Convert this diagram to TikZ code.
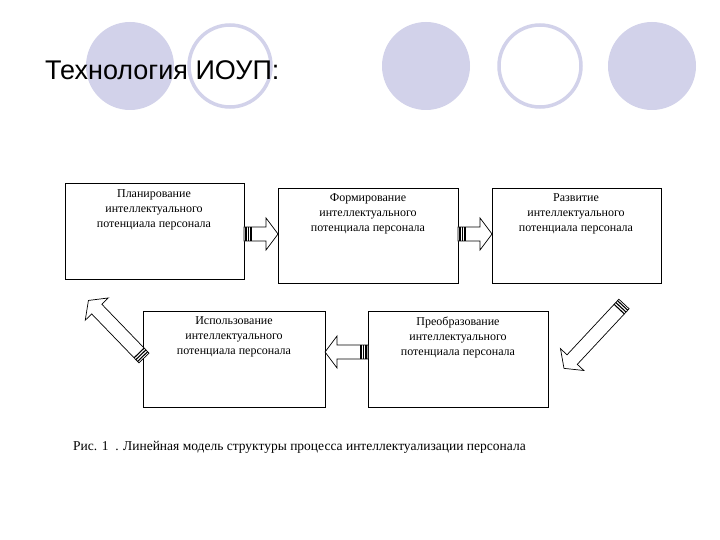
\documentclass[tikz,border=0pt]{standalone}
\usepackage{fontspec}
\setmainfont{Liberation Serif}
\newfontfamily\titlefont{Liberation Sans}
\newcommand\blkarrow[4]{%
\begin{scope}[shift={(#1,#2)},rotate=#3]
\draw[fill=white,line width=0.7pt] (0,-7) -- (#4-12,-7) -- (#4-12,-16) -- (#4,0) -- (#4-12,16) -- (#4-12,7) -- (0,7) -- cycle;
\foreach \s in {2,4.5,7} \draw[line width=1.1pt] (\s,-7) -- (\s,7);
\end{scope}}
\begin{document}
\begin{tikzpicture}[x=1pt,y=-1pt,
  lbl/.style={align=center,font=\fontsize{12}{15}\selectfont,anchor=north}]
\definecolor{lav}{HTML}{D2D2EA}
\useasboundingbox (0,0) rectangle (720,540);
\fill[white] (0,0) rectangle (720,540);
\fill[lav] (130,66) circle (44);
\draw[lav,line width=3.5pt] (230,66) circle (41);
\fill[lav] (426,66) circle (44);
\draw[lav,line width=3.5pt] (540,66) circle (41);
\fill[lav] (652,66) circle (44);
\node[anchor=west,font=\titlefont\fontsize{27}{30}\selectfont,inner sep=0pt] (title) at (45,70) {Технология ИОУП:};
\draw[line width=0.8pt] (65,183) rectangle (244,279);
\draw[line width=0.8pt] (278,188) rectangle (458,283);
\draw[line width=0.8pt] (492,188) rectangle (661,283);
\draw[line width=0.8pt] (143,311) rectangle (325,407);
\draw[line width=0.8pt] (368,311) rectangle (548,407);
\node[lbl] (b1) at (154,186) {Планирование\\интеллектуального\\потенциала персонала};
\node[lbl] (b2) at (368,190) {Формирование\\интеллектуального\\потенциала персонала};
\node[lbl] (b3) at (576,190) {Развитие\\интеллектуального\\потенциала персонала};
\node[lbl] (b4) at (234,313) {Использование\\интеллектуального\\потенциала персонала};
\node[lbl] (b5) at (458,313) {Преобразование\\интеллектуального\\потенциала персонала};
\blkarrow{244}{234}{0}{34}
\blkarrow{458}{234}{0}{34}
\blkarrow{368}{352}{180}{43}
\blkarrow{144}{358}{134}{80}
\blkarrow{624}{304}{227}{88}
\node[anchor=west,font=\fontsize{13.5}{16}\selectfont,inner sep=0pt] (cap) at (73,447) {Рис. 1\enspace. Линейная модель структуры процесса интеллектуализации персонала};
\end{tikzpicture}
\end{document}
